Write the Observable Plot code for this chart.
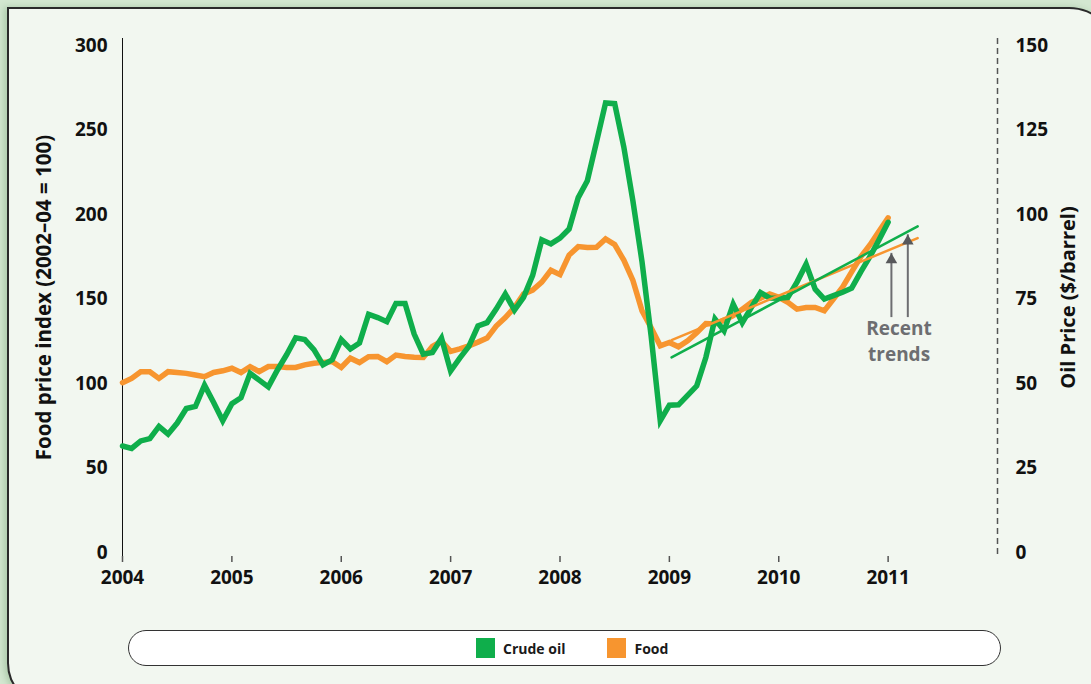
<!DOCTYPE html>
<html>
<head>
<meta charset="utf-8">
<script src="https://cdn.jsdelivr.net/npm/d3@7"></script>
<script src="https://cdn.jsdelivr.net/npm/@observablehq/plot@0.6"></script>
<style>
  html, body { margin: 0; padding: 0; }
  body { width: 1091px; height: 684px; overflow: hidden; background: #d3e7d0; font-family: "Open Sans", sans-serif; }
  #panel { position: absolute; left: 7px; top: 7px; width: 1110px; height: 700px; box-sizing: border-box;
           background: #f2f7f0; border: 2px solid #2a2a2a; border-radius: 0 48px 0 44px;
           box-shadow: -3px 0 6px rgba(60,120,60,0.25); }
  #chart { position: absolute; left: 0; top: 0; }
  #legend { position: absolute; left: 128px; top: 630px; width: 873px; height: 36px; box-sizing: border-box;
            background: #ffffff; border: 1.5px solid #333; border-radius: 18px;
            display: flex; align-items: center; justify-content: flex-start; padding-left: 347px; }
  .item { display: flex; align-items: center; font-weight: 700; font-size: 14px; color: #1a1a1a; }
  .sw { width: 19px; height: 20px; margin-right: 8px; }
</style>
</head>
<body>
<div id="panel"></div>
<div id="chart"></div>
<div id="legend"></div>
<script>
// ---- data (monthly, Jan 2004 .. Jan 2011) ----
const startYear = 2004;
const foodIndex = [
  100.5, 103, 107, 107, 103, 107, 106.5, 106, 105, 104, 106.5, 107.5,
  109, 106.5, 110, 107, 110, 110, 109.5, 109.5, 111, 112, 112.5, 113,
  109.5, 115, 112.4, 115.8, 116, 112.9, 116.8, 116, 115.5, 115.4, 122, 125,
  119, 120.5, 122.3, 124.5, 126.9, 134, 139, 145, 153, 155.3, 160, 167,
  164.4, 176, 181, 180.5, 180.6, 185.5, 182.2, 173, 161, 143, 133, 122.3,
  124.3, 121.7, 125.3, 130, 135.5, 135.2, 137.5, 140.1, 144, 148, 150.5, 153,
  151, 148, 144, 145, 145, 143, 150, 157, 166, 175, 182, 190,
  198
];
const oilPrice = [
  31.5, 30.8, 33, 33.7, 37.3, 35, 38.3, 42.6, 43.2, 49.5, 44.4, 39,
  44, 45.8, 53, 51, 49, 54, 58.5, 63.5, 63, 60, 55.5, 57,
  63, 60.2, 62, 70.5, 69.5, 68.3, 73.7, 73.7, 64.6, 58.7, 59.2, 63.4,
  53.7, 57.5, 61, 67, 68, 72, 76.5, 71.7, 75.5, 82, 92.5, 91.3,
  93, 95.7, 105, 110, 121.4, 133, 132.8, 120, 104, 86, 64, 39,
  43.6, 43.7, 46.5, 49.3, 57.7, 69.1, 65.6, 73.5, 68, 72.5, 76.9, 75.3,
  75.2, 75.5, 80, 85.3, 77.9, 75, 76, 77, 78.2, 83, 87.5, 92.5,
  97.7
];
// recent-trend lines (year, value)
const trendYears = [2009.02, 2011.27];
const foodTrend = [125.7, 186];
const oilTrend = [57.7, 96.5];
// annotation arrows (year, base value, tip value) on the food scale
const arrowYears = [2011.03, 2011.18];
const arrowBase = [139, 139];
const arrowTip = [177, 188];
const noteText = "Recent\ntrends";
const noteYear = 2011.10;
const noteValue = 126;
// axes
const yearTicks = [2004, 2005, 2006, 2007, 2008, 2009, 2010, 2011];
const foodTicks = [0, 50, 100, 150, 200, 250, 300];
const leftLabel = "Food price index (2002–04 = 100)";
const rightLabel = "Oil Price ($/barrel)";
const seriesNames = ["Crude oil", "Food"];
const seriesColors = ["#0fae4b", "#f7952f"];

const food = foodIndex.map((v, i) => ({t: startYear + i / 12, v}));
const oil = oilPrice.map((v, i) => ({t: startYear + i / 12, v}));
const foodTr = trendYears.map((t, i) => ({t, v: foodTrend[i]}));
const oilTr = trendYears.map((t, i) => ({t, v: oilTrend[i]}));
const arrows = arrowYears.map((t, i) => ({t, b: arrowBase[i], tip: arrowTip[i]}));

const txt = {fontFamily: "Open Sans", fontWeight: 700};

const chart = Plot.plot({
  width: 1091,
  height: 600,
  marginLeft: 122,
  marginRight: 94,
  marginTop: 38,
  marginBottom: 44,
  style: {background: "transparent", fontFamily: "Open Sans", fontWeight: 700, fontSize: "19px", color: "#1a1a1a"},
  x: {domain: [2004, 2012]},
  y: {domain: [0, 300], insetTop: 7, insetBottom: 4},
  marks: [
    Plot.ruleX([2004], {stroke: "#111", strokeWidth: 1}),
    Plot.ruleX([2012], {stroke: "#555", strokeWidth: 1.5, strokeDasharray: "6,4"}),
    Plot.axisX({ticks: yearTicks, tickFormat: "d", tickSize: 6, tickPadding: 8, label: null, line: true,
                stroke: "#555", strokeWidth: 1.5, fontSize: 19, fill: "#111"}),
    Plot.axisY({anchor: "left", ticks: foodTicks, tickSize: 0, tickPadding: 15, label: null, fontSize: 19, fill: "#111"}),
    Plot.axisY({anchor: "right", ticks: foodTicks, tickFormat: d => d / 2, tickSize: 0, tickPadding: 18, label: null, fontSize: 19, fill: "#111"}),
    Plot.text([leftLabel], {frameAnchor: "left", dx: -78, dy: 0, rotate: -90, textAnchor: "middle", fontSize: 20.5, fill: "#111", ...txt}),
    Plot.text([rightLabel], {frameAnchor: "right", dx: 71, dy: 0, rotate: -90, textAnchor: "middle", fontSize: 20, fill: "#111", ...txt}),
    Plot.line(food, {x: "t", y: "v", stroke: seriesColors[1], strokeWidth: 5.5, strokeLinejoin: "miter", strokeMiterlimit: 4}),
    Plot.line(oil, {x: "t", y: d => d.v * 2, stroke: seriesColors[0], strokeWidth: 5.5, strokeLinejoin: "miter", strokeMiterlimit: 4}),
    Plot.line(foodTr, {x: "t", y: "v", stroke: seriesColors[1], strokeWidth: 2.5}),
    Plot.line(oilTr, {x: "t", y: d => d.v * 2, stroke: seriesColors[0], strokeWidth: 2.5}),
    Plot.ruleX(arrows, {x: "t", y1: "b", y2: "tip", stroke: "#6d6e71", strokeWidth: 2}),
    Plot.dot(arrows, {x: "t", y: "tip", symbol: "triangle", r: 4.3, fill: "#58595b", stroke: null, dy: 6.5}),
    Plot.text([noteText], {x: () => noteYear, y: () => noteValue, fontSize: 19, lineHeight: 1.37, fill: "#6d6e71", ...txt})
  ]
});
document.getElementById("chart").appendChild(chart);

const legend = document.getElementById("legend");
seriesNames.forEach((name, i) => {
  const it = document.createElement("div");
  it.className = "item";
  it.style.marginRight = i === 0 ? "42px" : "0";
  const sw = document.createElement("div");
  sw.className = "sw";
  sw.style.background = seriesColors[i];
  const lb = document.createElement("span");
  lb.textContent = name;
  it.appendChild(sw); it.appendChild(lb);
  legend.appendChild(it);
});
</script>
</body>
</html>
